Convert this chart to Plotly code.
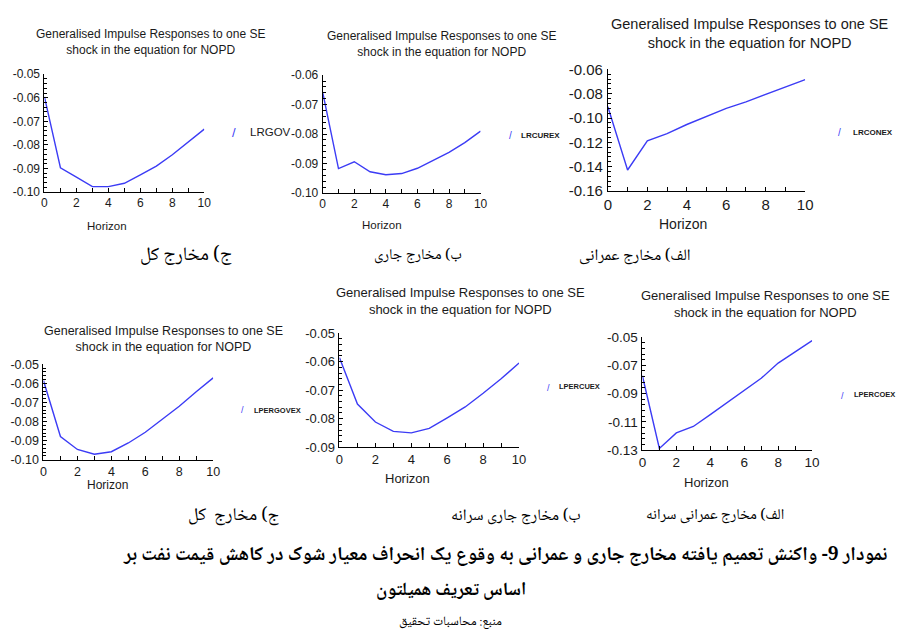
import plotly.graph_objects as go

# ---------------- data ----------------
HORIZON = [0, 1, 2, 3, 4, 5, 6, 7, 8, 9, 10]
X_TICKS = [0, 2, 4, 6, 8, 10]

SERIES_NAMES = ["LRGOV", "LRCUREX", "LRCONEX", "LPERGOVEX", "LPERCUEX", "LPERCOEX"]

LRGOV = [-0.0596, -0.0897, -0.0937, -0.0977, -0.0977, -0.0963, -0.0927, -0.0890, -0.0842, -0.0788, -0.0733]
LRCUREX = [-0.0658, -0.0917, -0.0894, -0.0928, -0.0938, -0.0934, -0.0916, -0.0890, -0.0862, -0.0829, -0.0790]
LRCONEX = [-0.0907, -0.1427, -0.1187, -0.1128, -0.1053, -0.0987, -0.0920, -0.0867, -0.0805, -0.0747, -0.0685]
LPERGOVEX = [-0.0585, -0.0878, -0.0946, -0.0971, -0.0958, -0.0912, -0.0856, -0.0788, -0.0720, -0.0644, -0.0571]
LPERCUEX = [-0.0586, -0.0749, -0.0812, -0.0845, -0.0850, -0.0834, -0.0797, -0.0759, -0.0711, -0.0660, -0.0605]
LPERCOEX = [-0.0774, -0.1289, -0.1179, -0.1133, -0.1049, -0.0965, -0.0879, -0.0792, -0.0684, -0.0605, -0.0525]

Y_TICKS_1 = [-0.10, -0.09, -0.08, -0.07, -0.06, -0.05]
Y_TICKS_2 = [-0.10, -0.09, -0.08, -0.07, -0.06]
Y_TICKS_3 = [-0.16, -0.14, -0.12, -0.10, -0.08, -0.06]
Y_TICKS_4 = [-0.10, -0.09, -0.08, -0.07, -0.06, -0.05]
Y_TICKS_5 = [-0.09, -0.08, -0.07, -0.06, -0.05]
Y_TICKS_6 = [-0.13, -0.11, -0.09, -0.07, -0.05]

PANEL_TITLE = "Generalised Impulse Responses to one SE<br>shock in the equation for NOPD"
X_TITLE = "Horizon"

CAPTIONS_ROW1 = ["ج) مخارج کل", "ب) مخارج جاری", "الف) مخارج عمرانی"]
CAPTIONS_ROW2 = ["ج) مخارج  کل", "ب) مخارج جاری سرانه", "الف) مخارج عمرانی سرانه"]
MAIN_TITLE_1 = "نمودار 9- واکنش تعمیم یافته مخارج جاری و عمرانی به وقوع یک انحراف معیار شوک در کاهش قیمت نفت بر"
MAIN_TITLE_2 = "اساس تعریف همیلتون"
SOURCE = "منبع: محاسبات تحقیق"

# ---------------- layout helpers ----------------
W, H = 902, 643
LINE = "#3c3cf5"
TXT = "#1a1a1a"
LATIN = "Arial, Liberation Sans, sans-serif"
PERSIAN = "Noto Naskh Arabic, Noto Sans Arabic, Times New Roman, DejaVu Sans, serif"


def px(x):
    return x / W


def py(y):
    return 1 - y / H


series = [LRGOV, LRCUREX, LRCONEX, LPERGOVEX, LPERCUEX, LPERCOEX]
yticks = [Y_TICKS_1, Y_TICKS_2, Y_TICKS_3, Y_TICKS_4, Y_TICKS_5, Y_TICKS_6]

# box (x0,x1,y0,y1) px, title center, horizon center, legend slash pos, label pos, fonts
panels = [
    dict(box=(41, 203, 67, 188), title=(148, 34), tfs=12, hor=(104, 223), hfs=11.5, tick=12,
         slash=(233, 127), slfs=13, lab=(247, 126), lfs=11.5, lbold=False),
    dict(box=(323, 483, 68, 189), title=(443, 35.5), tfs=12, hor=(383, 222), hfs=11.5, tick=12,
         slash=(513, 130), slfs=10, lab=(522, 130), lfs=8, lbold=True),
    dict(box=(612, 812, 62, 187), title=(756, 25), tfs=14.5, hor=(688, 221), hfs=14, tick=15,
         slash=(847, 127), slfs=10, lab=(858, 127), lfs=8, lbold=True),
    dict(box=(40, 212, 365, 463), title=(162, 338.5), tfs=12.5, hor=(105, 489), hfs=12, tick=12.5,
         slash=(242, 412), slfs=9, lab=(251, 412), lfs=7.5, lbold=True),
    dict(box=(340, 522, 333, 450), title=(463, 300), tfs=13, hor=(409, 482), hfs=13, tick=13,
         slash=(552, 389), slfs=9, lab=(560, 388), lfs=7.5, lbold=True),
    dict(box=(647, 819, 337, 453), title=(772, 303.5), tfs=13, hor=(712, 486), hfs=13, tick=13.5,
         slash=(850, 397), slfs=9, lab=(859, 396), lfs=7.5, lbold=True),
]

fig = go.Figure()
annotations = []
layout = {}

for i, (p, ys, yt, name) in enumerate(zip(panels, series, yticks, SERIES_NAMES), start=1):
    sfx = "" if i == 1 else str(i)
    fig.add_trace(go.Scatter(x=HORIZON, y=ys, mode="lines", name=name,
                             line=dict(color=LINE, width=1.4),
                             xaxis="x" + sfx, yaxis="y" + sfx, showlegend=False))
    x0, x1, y0, y1 = p["box"]
    step = round(yt[1] - yt[0], 4)
    layout["xaxis" + sfx] = dict(
        domain=[px(x0), px(x1)], anchor="y" + sfx, range=[0, 10],
        tickmode="array", tickvals=X_TICKS, ticktext=[str(v) for v in X_TICKS],
        ticks="inside", ticklen=4, tickcolor="black", tickwidth=1,
        minor=dict(dtick=1, tick0=0, ticks="inside", ticklen=4, tickcolor="black"),
        showline=True, linecolor="black", linewidth=1, showgrid=False, zeroline=False,
        tickfont=dict(family=LATIN, size=p["tick"], color=TXT), fixedrange=True,
    )
    layout["yaxis" + sfx] = dict(
        domain=[py(y1), py(y0)], anchor="x" + sfx, range=[yt[0], yt[-1]],
        tickmode="array", tickvals=yt, ticktext=[f"{v:.2f}" for v in yt],
        ticks="inside", ticklen=4, tickcolor="black", tickwidth=1,
        minor=dict(dtick=step / 5, tick0=yt[0], ticks="inside", ticklen=3, tickcolor="black"),
        showline=True, linecolor="black", linewidth=1, showgrid=False, zeroline=False,
        tickfont=dict(family=LATIN, size=p["tick"], color=TXT), fixedrange=True,
        ticklabelstandoff=1,
    )
    annotations.append(dict(text=PANEL_TITLE, x=px(p["title"][0]), y=py(p["title"][1]),
                            xref="paper", yref="paper", showarrow=False, xanchor="center",
                            yanchor="middle", font=dict(family=LATIN, size=p["tfs"], color=TXT)))
    annotations.append(dict(text=X_TITLE, x=px(p["hor"][0]), y=py(p["hor"][1]),
                            xref="paper", yref="paper", showarrow=False, xanchor="center",
                            yanchor="middle", font=dict(family=LATIN, size=p["hfs"], color=TXT)))
    annotations.append(dict(text="/", x=px(p["slash"][0]), y=py(p["slash"][1]),
                            xref="paper", yref="paper", showarrow=False, xanchor="center",
                            yanchor="middle", font=dict(family=LATIN, size=p["slfs"], color=LINE)))
    lab = f"<b>{name}</b>" if p["lbold"] else name
    annotations.append(dict(text=lab, x=px(p["lab"][0]), y=py(p["lab"][1]),
                            xref="paper", yref="paper", showarrow=False, xanchor="left",
                            yanchor="middle", font=dict(family=LATIN, size=p["lfs"], color=TXT)))

# Persian captions
row1_pos = [(184, 254), (420, 254), (640, 254)]
row1_fs = [19, 15, 16]
row2_pos = [(233, 521), (519, 521), (721, 521)]
row2_fs = [18, 16, 15]
for txt, (x, y), fs in zip(CAPTIONS_ROW1, row1_pos, row1_fs):
    annotations.append(dict(text=txt, x=px(x), y=py(y), xref="paper", yref="paper",
                            showarrow=False, xanchor="center", yanchor="middle",
                            font=dict(family=PERSIAN, size=fs, color="black")))
for txt, (x, y), fs in zip(CAPTIONS_ROW2, row2_pos, row2_fs):
    annotations.append(dict(text=txt, x=px(x), y=py(y), xref="paper", yref="paper",
                            showarrow=False, xanchor="center", yanchor="middle",
                            font=dict(family=PERSIAN, size=fs, color="black")))

annotations.append(dict(text=f"<b>{MAIN_TITLE_1}</b>", x=px(508), y=py(561), xref="paper", yref="paper",
                        showarrow=False, xanchor="center", yanchor="middle",
                        font=dict(family=PERSIAN, size=19.5, color="black")))
annotations.append(dict(text=f"<b>{MAIN_TITLE_2}</b>", x=px(453), y=py(598), xref="paper", yref="paper",
                        showarrow=False, xanchor="center", yanchor="middle",
                        font=dict(family=PERSIAN, size=18.5, color="black")))
annotations.append(dict(text=SOURCE, x=px(453), y=py(630), xref="paper", yref="paper",
                        showarrow=False, xanchor="center", yanchor="middle",
                        font=dict(family=PERSIAN, size=13, color="black")))

fig.update_layout(
    width=W, height=H, margin=dict(l=0, r=0, t=0, b=0),
    paper_bgcolor="white", plot_bgcolor="white",
    annotations=annotations, showlegend=False, **layout,
)

fig.write_html("out.html", config={"displayModeBar": False},
               post_script="document.body.style.margin='0px';")
